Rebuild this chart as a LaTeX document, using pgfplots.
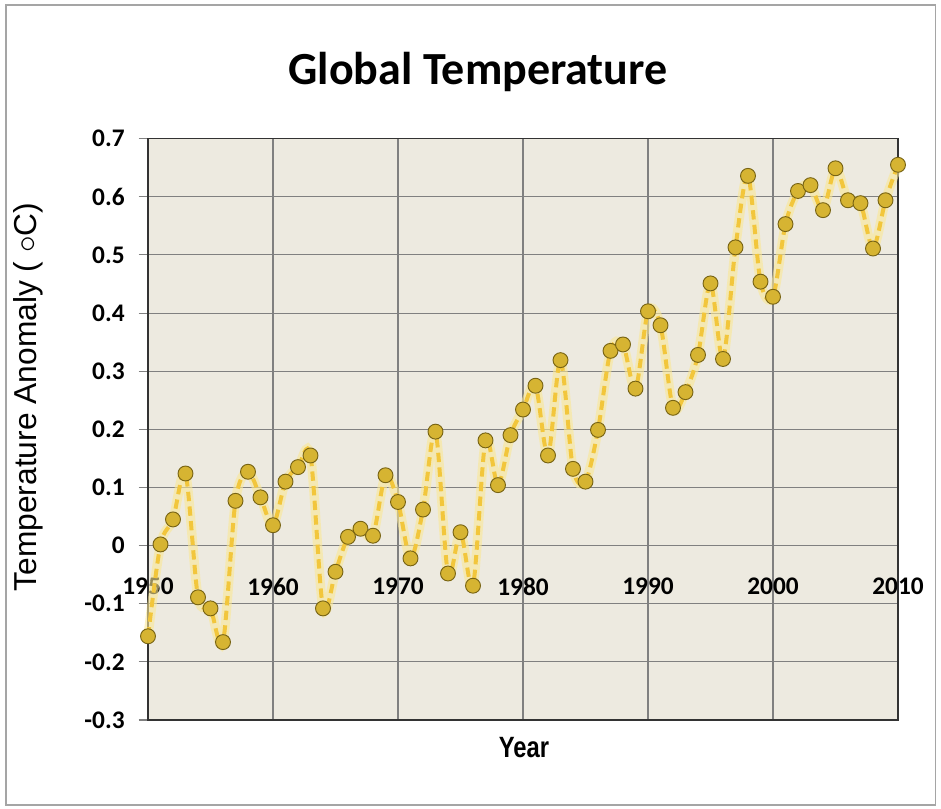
\documentclass[border=0pt]{standalone}
\usepackage{pgfplots}
\pgfplotsset{compat=1.18}
\usepackage{pgfplotstable}
\usepackage{fontspec}
\setmainfont{Liberation Sans}
\newfontfamily\carlito{Carlito}
\newfontfamily\narrowbold[FakeStretch=0.81]{Liberation Sans Bold}
\definecolor{plotbg}{RGB}{237,234,224}
\definecolor{gridc}{RGB}{128,128,128}
\definecolor{framec}{RGB}{165,165,165}
\definecolor{linec}{RGB}{242,198,60}
\definecolor{glowc}{RGB}{250,232,150}
\definecolor{markfill}{RGB}{214,180,50}
\definecolor{markdraw}{RGB}{120,100,20}
\pgfplotstableread{
year temp
1950 -0.156
1951 0.002
1952 0.045
1953 0.124
1954 -0.089
1955 -0.108
1956 -0.166
1957 0.077
1958 0.127
1959 0.083
1960 0.035
1961 0.110
1962 0.135
1963 0.155
1964 -0.108
1965 -0.045
1966 0.015
1967 0.029
1968 0.017
1969 0.121
1970 0.075
1971 -0.022
1972 0.062
1973 0.196
1974 -0.048
1975 0.023
1976 -0.069
1977 0.181
1978 0.104
1979 0.190
1980 0.234
1981 0.275
1982 0.155
1983 0.319
1984 0.132
1985 0.110
1986 0.199
1987 0.335
1988 0.346
1989 0.270
1990 0.403
1991 0.379
1992 0.237
1993 0.264
1994 0.328
1995 0.451
1996 0.321
1997 0.513
1998 0.636
1999 0.454
2000 0.428
2001 0.553
2002 0.610
2003 0.620
2004 0.577
2005 0.649
2006 0.594
2007 0.589
2008 0.511
2009 0.594
2010 0.655
}\datatable
\begin{document}
\begin{tikzpicture}
\path[use as bounding box] (0,0) rectangle (705.75pt,606.75pt);
\draw[framec, line width=1pt] (4.5pt,3pt) rectangle (701.5pt,603pt);
\begin{axis}[
  at={(111pt,66.75pt)}, anchor=south west,
  scale only axis, width=562.5pt, height=436pt,
  xmin=1950, xmax=2010, ymin=-0.3, ymax=0.7,
  axis background/.style={fill=plotbg},
  xtick={1950,1960,1970,1980,1990,2000,2010},
  xticklabels={1950,1960,1970,1980,1990,2000,2010},
  ytick={-0.3,-0.2,-0.1,0,0.1,0.2,0.3,0.4,0.5,0.6,0.7},
  yticklabels={-0.3,-0.2,-0.1,0,0.1,0.2,0.3,0.4,0.5,0.6,0.7},
  grid=major,
  grid style={gridc, line width=0.8pt},
  major x tick style={draw=none},
  major y tick style={gridc, line width=0.8pt},
  tick align=outside,
  major tick length=7pt,
  xtick pos=bottom, ytick pos=left,
  axis line style={black!80, line width=1.2pt},
  /pgf/number format/assume math mode=true,
  xticklabel style={font=\carlito\bfseries\fontsize{19}{21}\selectfont, anchor=center, yshift=107pt},
  yticklabel style={font=\carlito\bfseries\fontsize{19}{21}\selectfont, xshift=-7pt},
  clip=false,
]
\addplot[glowc, line width=7pt, smooth, opacity=0.6, no marks] table[x=year,y=temp]{\datatable};
\addplot[linec, line width=3pt, smooth, dash pattern=on 7pt off 4pt,
  mark=*, mark size=5.6pt,
  mark options={solid, fill=markfill, draw=markdraw, line width=0.7pt}]
  table[x=year,y=temp]{\datatable};
\end{axis}
\node[font=\carlito\bfseries\fontsize{34.5}{40}\selectfont] at (358.5pt,553pt) {Global Temperature};
\node[rotate=90, font=\fontsize{23.8}{28}\selectfont] at (21pt,309pt) {Temperature Anomaly ( $\circ$C)};
\node[font=\narrowbold\fontsize{22}{26}\selectfont] at (393pt,45.75pt) {Year};
\end{tikzpicture}
\end{document}
